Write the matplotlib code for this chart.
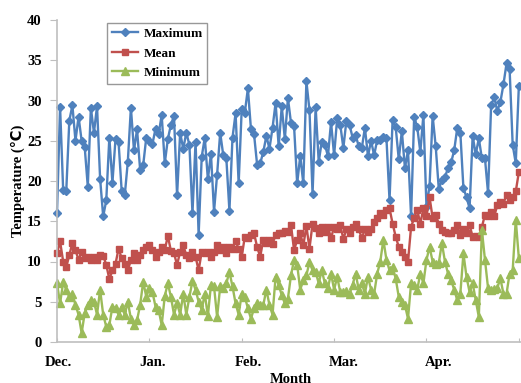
import numpy as np
import matplotlib
matplotlib.use("Agg")
import matplotlib.pyplot as plt

# ---------- data (one value per day, Dec 1 -> Apr 30) ----------
maximum = [
    16.0, 29.2, 18.9, 18.7, 27.5, 29.4, 25.0, 28.0, 25.0, 24.2,
    19.3, 29.1, 26.0, 29.3, 20.3, 15.6, 17.6, 25.4, 19.8, 25.2,
    24.8, 18.8, 18.2, 22.4, 29.1, 23.8, 26.4, 21.4, 22.0, 25.4,
    25.0, 24.6, 26.5, 25.8, 28.2, 22.2, 25.2, 27.0, 28.1, 18.2,
    26.0, 24.0, 26.0, 24.5, 16.0, 24.9, 13.3, 23.0, 25.4, 20.2,
    23.4, 16.2, 20.8, 26.0, 23.2, 22.8, 16.3, 25.4, 28.4, 19.7,
    29.0, 28.5, 31.5, 26.4, 25.8, 22.0,
    22.2, 23.6, 25.6, 24.0, 26.6, 29.7, 24.3, 29.3, 25.2, 30.3,
    27.2, 26.8, 19.7, 23.1, 19.7, 32.4, 28.8, 18.4, 29.2, 22.4,
    24.9, 24.5, 23.1, 27.3, 23.2, 27.8, 27.0, 24.1, 27.5, 27.0,
    25.4, 25.7, 24.3, 24.1, 26.6, 23.1, 25.0, 23.2, 25.1, 25.1,
    25.5, 25.3, 17.6, 27.6, 26.7, 22.7, 26.2, 21.6, 23.8, 15.6,
    28.0, 26.7, 23.6, 28.2, 16.8, 19.4, 28.1, 24.3, 19.0, 20.1,
    20.5, 21.6, 22.3, 23.8, 26.6, 26.0, 19.1, 18.0, 16.6, 25.6,
    23.3, 25.3, 22.8, 22.8, 18.5, 29.4, 30.4, 28.7, 29.8, 32.0,
    34.6, 33.9, 24.5, 22.2, 31.8,
]

mean = [
    11.0, 12.5, 10.0, 9.3, 10.8, 12.3, 11.4, 10.2, 11.2, 10.4,
    10.6, 10.2, 10.6, 10.2, 10.8, 10.7, 9.6, 7.8, 8.9, 9.7,
    11.6, 10.4, 9.7, 8.9, 10.2, 11.1, 10.2, 10.8, 11.4, 11.8,
    12.0, 11.4, 10.6, 11.2, 11.8, 11.4, 13.2, 11.3, 11.0, 9.6,
    11.2, 12.0, 10.8, 10.4, 11.2, 10.6, 8.9, 11.2, 11.0, 11.2,
    10.6, 11.2, 12.0, 11.4, 11.8, 11.0, 11.8, 11.6, 12.5, 11.6,
    10.6, 13.1, 12.9, 13.3, 13.5, 11.8,
    10.6, 12.7, 12.3, 12.7, 12.2, 13.3, 13.6, 13.5, 13.8, 13.7,
    14.5, 11.4, 12.7, 13.5, 12.0, 14.4, 11.6, 14.7, 14.1, 13.5,
    14.3, 13.7, 14.3, 12.9, 14.3, 14.0, 14.5, 12.8, 14.0, 13.6,
    14.3, 14.7, 14.0, 12.9, 14.0, 13.7, 14.0, 14.9, 15.4, 16.0,
    15.8, 16.4, 16.6, 14.7, 13.1, 11.8, 11.2, 10.6, 10.0, 14.3,
    15.4, 16.4, 14.7, 16.6, 15.6, 18.0, 15.4, 15.8, 14.7, 13.9,
    13.7, 13.5, 13.6, 13.9, 14.5, 13.3, 14.0, 13.5, 14.5, 13.1,
    13.2, 13.1, 14.3, 15.8, 15.6, 16.1, 15.6, 17.0, 17.4, 17.2,
    18.3, 17.6, 18.0, 18.7, 21.1,
]

minimum = [
    7.3, 4.8, 7.4, 6.5, 5.6, 6.0, 4.6, 3.4, 1.1, 3.6,
    4.6, 5.2, 5.0, 3.4, 6.5, 3.4, 1.9, 2.1, 4.4, 4.2,
    3.4, 4.4, 3.4, 5.0, 2.9, 2.1, 2.7, 4.6, 7.5, 5.6,
    6.7, 6.2, 4.4, 4.0, 2.1, 5.7, 7.3, 5.6, 3.4, 4.8,
    3.4, 6.0, 3.4, 5.6, 7.6, 6.5, 5.0, 4.0, 6.0, 3.2,
    7.1, 6.9, 3.1, 6.9, 6.7, 7.3, 8.7, 6.9, 4.8, 3.4,
    6.0, 5.6, 4.2, 2.9, 4.2, 4.8,
    4.6, 4.6, 6.5, 4.6, 3.4, 8.1, 7.1, 5.8, 4.8, 5.4,
    8.3, 10.2, 9.6, 6.5, 7.7, 8.3, 9.9, 8.9, 8.7, 7.3,
    8.9, 7.3, 6.7, 8.5, 6.5, 8.1, 6.2, 6.2, 6.3, 6.0,
    7.1, 8.5, 6.5, 7.3, 6.0, 8.1, 6.5, 6.0, 8.5, 10.0,
    12.7, 10.2, 8.9, 9.3, 7.9, 5.6, 5.0, 4.6, 2.9, 7.3,
    7.1, 6.5, 8.5, 7.3, 10.2, 11.8, 10.0, 9.7, 9.8, 12.3,
    10.0, 8.5, 7.7, 6.5, 5.2, 6.0, 11.0, 8.1, 6.2, 7.3,
    5.2, 3.1, 13.9, 10.2, 6.7, 6.5, 6.6, 6.7, 7.9, 6.0,
    6.0, 8.5, 8.9, 15.2, 10.4,
]

month_labels = ["Dec.", "Jan.", "Feb.", "Mar.", "Apr."]
month_label_days = [0.3, 31, 62, 93, 124]
tick_days = [0, 30, 60, 90, 120, 150]

# ---------- style ----------
blue = "#4F81BD"
red = "#C0504D"
green = "#9BBB59"
axis_gray = "#BFBFBF"
serif = ["Liberation Serif", "DejaVu Sans"]

plt.rcParams["font.family"] = serif
plt.rcParams["font.weight"] = "bold"

days = np.arange(len(maximum))

fig = plt.figure(figsize=(5.21, 3.83), dpi=100)
ax = fig.add_axes([57 / 521, 41 / 383, 468 / 521, 322 / 383])

ax.plot(days, maximum, color=blue, lw=1.7, marker="D", ms=3.8, label="Maximum", clip_on=False)
ax.plot(days, mean, color=red, lw=1.7, marker="s", ms=4.6, label="Mean", clip_on=False)
ax.plot(days, minimum, color=green, lw=1.7, marker="^", ms=5.2, label="Minimum", clip_on=False)

ax.set_xlim(0, 152)
ax.set_ylim(0, 40)
ax.set_yticks(np.arange(0, 41, 5))
ax.set_xticks(tick_days)
ax.set_xticklabels([""] * len(tick_days))
ax.set_xticks(month_label_days, minor=True)
ax.set_xticklabels(month_labels, minor=True)

ax.tick_params(axis="x", which="major", direction="in", length=3, color=axis_gray)
ax.tick_params(axis="x", which="minor", length=0, pad=10, labelsize=10.5)
ax.tick_params(axis="y", direction="out", length=5, color=axis_gray, pad=6, labelsize=10.5)
for lab in ax.get_xticklabels(minor=True) + ax.get_yticklabels():
    lab.set_fontweight("bold")

for side in ["top", "right"]:
    ax.spines[side].set_visible(False)
for side in ["left", "bottom"]:
    ax.spines[side].set_color(axis_gray)
    ax.spines[side].set_linewidth(1.2)

ax.set_ylabel("Temperature (℃)", fontsize=10.5, fontweight="bold", va="center")
ax.yaxis.set_label_coords(-39 / 468, 0.5)
ax.set_xlabel("Month", fontsize=10.5, fontweight="bold", va="top")
ax.xaxis.set_label_coords(0.5, -31 / 322)

leg = ax.legend(loc="upper left", bbox_to_anchor=(0.107, 0.99), borderaxespad=0,
                frameon=True, fancybox=False, edgecolor="#7F7F7F",
                prop={"family": serif, "weight": "bold", "size": 9.5},
                labelspacing=0.55, handlelength=2.0, handletextpad=0.4,
                borderpad=0.35, markerscale=1.0)
leg.get_frame().set_linewidth(1.0)

fig.savefig("out.png", dpi=100)
